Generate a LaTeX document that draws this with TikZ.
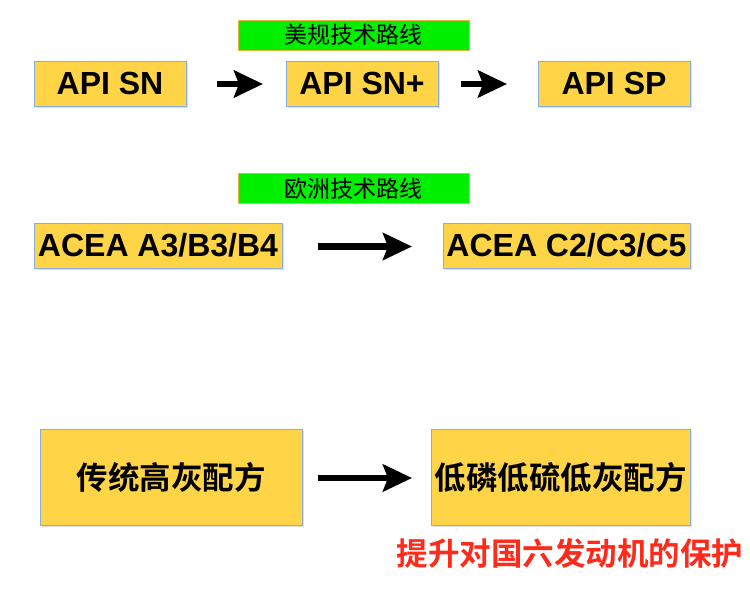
\documentclass[tikz,border=0pt]{standalone}
\usepackage{fontspec}
\setmainfont{Liberation Sans}
\newfontfamily\cjk{Noto Sans CJK SC}
\newfontfamily\cjkb{Noto Sans CJK SC Bold}
\usetikzlibrary{arrows.meta,shadows}
\definecolor{boxfill}{HTML}{FFD447}
\definecolor{boxline}{HTML}{8AAEDC}
\definecolor{tagfill}{HTML}{00F000}
\definecolor{tagline}{HTML}{E8B040}
\definecolor{redtxt}{HTML}{FF2A1A}
\tikzset{
  ybox/.style={draw=boxline, line width=0.8pt, fill=boxfill, inner sep=0pt,
    drop shadow={shadow xshift=1.5pt, shadow yshift=-2pt, opacity=0.25}},
  tag/.style={draw=tagline, line width=0.6pt, fill=tagfill, inner sep=0pt,
    minimum width=231pt, minimum height=30pt, font=\cjk\fontsize{23}{25}\selectfont},
  bigarrow/.style={line width=6.5pt, -{Stealth[length=29pt, width=27pt, inset=5pt]}},
  en/.style={font=\bfseries\fontsize{32}{36}\selectfont},
  zh/.style={font=\cjkb\fontsize{31.5}{34}\selectfont}
}
\begin{document}
\begin{tikzpicture}[x=1pt,y=-1pt]
\useasboundingbox (0,0) rectangle (750,598);
% row 1
\node[tag] (t1) at (353.5,35) {美规技术路线};
\node[ybox, en, minimum width=152pt, minimum height=45pt] (sn) at (110,83.5) {API SN};
\node[ybox, en, minimum width=152pt, minimum height=45pt] (snp) at (362,83.5) {API SN+};
\node[ybox, en, minimum width=152pt, minimum height=45pt] (sp) at (614,83.5) {API SP};
\coordinate (a1s) at (217,84);
\coordinate (a1e) at (263,84);
\coordinate (a2s) at (461,84);
\coordinate (a2e) at (507,84);
\draw[bigarrow] (a1s) -- (a1e);
\draw[bigarrow] (a2s) -- (a2e);
% row 2
\node[tag] (t2) at (353.5,188.5) {欧洲技术路线};
\node[ybox, en, minimum width=248pt, minimum height=45pt] (a3) at (158,245.5) {ACEA A3/B3/B4};
\node[ybox, en, minimum width=247pt, minimum height=45pt] (c2) at (566.5,245.5) {ACEA C2/C3/C5};
\coordinate (b1s) at (318,246.5);
\coordinate (b1e) at (412,246.5);
\draw[bigarrow] (b1s) -- (b1e);
% row 3
\node[ybox, zh, minimum width=262pt, minimum height=96pt] (old) at (171,477) {传统高灰配方};
\node[ybox, zh, minimum width=259pt, minimum height=96pt] (new) at (560.5,477) {低磷低硫低灰配方};
\coordinate (c1s) at (318,478);
\coordinate (c1e) at (412,478);
\draw[bigarrow] (c1s) -- (c1e);
\node[font=\cjkb\fontsize{31.5}{34}\selectfont, text=redtxt, inner sep=0pt] (red) at (570,553) {提升对国六发动机的保护};
\end{tikzpicture}
\end{document}
